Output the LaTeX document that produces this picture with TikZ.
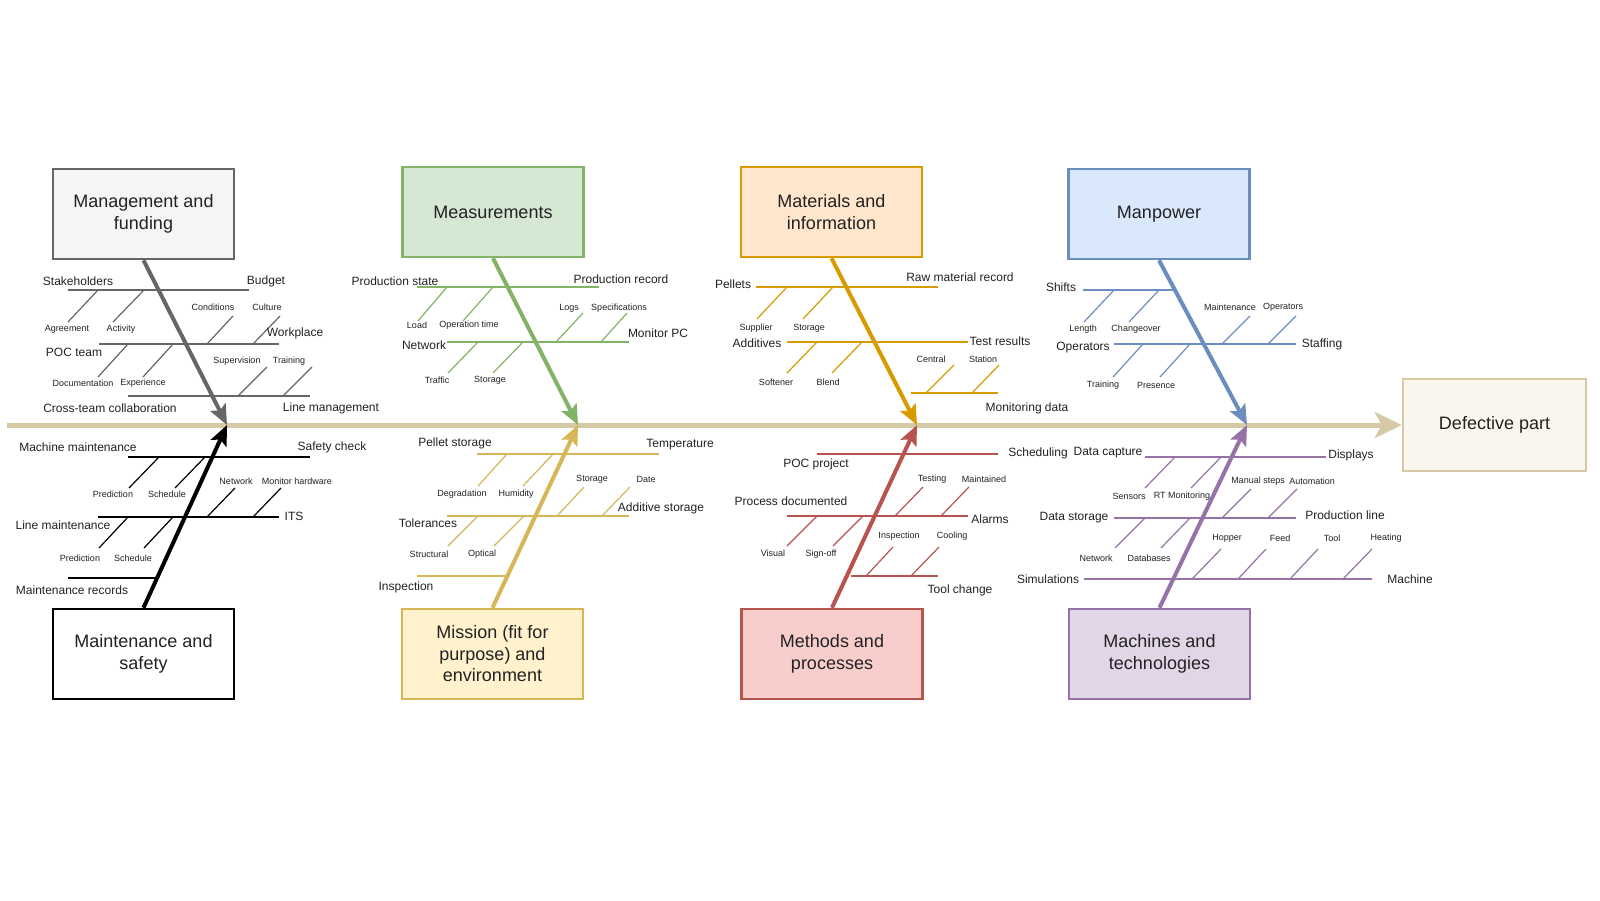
\documentclass[tikz,border=0pt]{standalone}
\usepackage{fontspec}
\setmainfont{Liberation Sans}
\usetikzlibrary{arrows.meta}

\definecolor{mgmtfill}{HTML}{F5F5F5}\definecolor{mgmtline}{HTML}{666666}
\definecolor{measfill}{HTML}{D5E8D4}\definecolor{measline}{HTML}{82B366}
\definecolor{matfill}{HTML}{FFE6CC}\definecolor{matline}{HTML}{D79B00}
\definecolor{manfill}{HTML}{DAE8FC}\definecolor{manline}{HTML}{6C8EBF}
\definecolor{misfill}{HTML}{FFF2CC}\definecolor{misline}{HTML}{D6B656}
\definecolor{metfill}{HTML}{F8CECC}\definecolor{metline}{HTML}{B85450}
\definecolor{macfill}{HTML}{E1D5E7}\definecolor{macline}{HTML}{9673A6}
\definecolor{effill}{HTML}{F9F7ED}\definecolor{axisline}{HTML}{D6C9A5}
\definecolor{labeltext}{HTML}{222222}

\begin{document}
\begin{tikzpicture}[x=1pt, y=-1pt,
    cause/.style={draw, line width=2.5pt, minimum width=181pt, minimum height=90pt,
        align=center, font=\fontsize{18}{21.5}\selectfont, text=labeltext},
    spine/.style={line width=4pt, -{Stealth[length=20pt,width=17pt,inset=4pt]}},
    branch/.style={line width=2.5pt},
    twig/.style={line width=1.2pt},
    lbl/.style={inner sep=0pt, font=\fontsize{12}{14}\selectfont, text=labeltext},
    sml/.style={inner sep=0pt, font=\fontsize{9}{11}\selectfont, text=labeltext}]

    \fill[white] (0,0) rectangle (1600,900);

    % cause boxes and effect
    \node[cause, fill=mgmtfill, draw=mgmtline] at (143.5,214)(mgmt){Management and\\funding};
    \node[cause, fill=measfill, draw=measline] at (493,212)(meas){Measurements};
    \node[cause, fill=matfill, draw=matline] at (831.5,212)(mat){Materials and\\information};
    \node[cause, fill=manfill, draw=manline] at (1159,214)(man){Manpower};
    \node[cause, fill=white, draw=black] at (143.5,654)(maint){Maintenance and\\safety};
    \node[cause, fill=misfill, draw=misline] at (492.5,654)(mis){Mission (fit for\\purpose) and\\environment};
    \node[cause, fill=metfill, draw=metline] at (832,654)(met){Methods and\\processes};
    \node[cause, fill=macfill, draw=macline] at (1159.5,654)(mac){Machines and\\technologies};
    \node[cause, fill=effill, draw=axisline, minimum width=183pt, minimum height=92pt] at (1494.5,425)(effect){Defective part};

    \coordinate (tail) at (7,425);
    \coordinate (tipA) at (227,425);
    \coordinate (tipB) at (578,425);
    \coordinate (tipC) at (917,425);
    \coordinate (tipD) at (1247,425);

    \draw[line width=5pt, axisline, -{Stealth[length=27pt,width=26pt,inset=7pt]}] (tail) -- (effect.west);

    % management and funding
    \draw[branch, mgmtline] (68,290) to (249,290);
    \draw[branch, mgmtline] (99,344) to (279,344);
    \draw[branch, mgmtline] (128,396) to (310,396);
        \draw[twig, mgmtline] (98,290) to (68,322);
        \draw[twig, mgmtline] (144,290) to (113,322);
        \draw[twig, mgmtline] (207,344) to (233,316);
        \draw[twig, mgmtline] (253,344) to (280,316);
        \draw[twig, mgmtline] (128,344) to (98,377);
        \draw[twig, mgmtline] (173,344) to (143,377);
        \draw[twig, mgmtline] (238,396) to (267,367);
        \draw[twig, mgmtline] (283,396) to (312,367);
    \draw[spine, mgmtline] (mgmt.south) to (tipA);
    \node[lbl] at (78,281)(stake){Stakeholders};
    \node[lbl] at (266,281)(budget){Budget};
    \node[lbl] at (74,352)(poc){POC team};
    \node[lbl] at (295,333)(workpl){Workplace};
    \node[lbl] at (110,408)(cross){Cross-team collaboration};
    \node[lbl] at (331,408)(linemg){Line management};
    \node[sml] at (67,329)(agree){Agreement};
    \node[sml] at (121,329)(activ){Activity};
    \node[sml] at (213,307)(cond){Conditions};
    \node[sml] at (267,307)(cult){Culture};
    \node[sml] at (83,383)(docu){Documentation};
    \node[sml] at (143,383)(exper){Experience};
    \node[sml] at (237,361)(superv){Supervision};
    \node[sml] at (289,361)(train){Training};

    % measurements
    \draw[branch, measline] (417,287) to (599,287);
    \draw[branch, measline] (447,342) to (629,342);
        \draw[twig, measline] (447,287) to (418,321);
        \draw[twig, measline] (493,287) to (463,321);
        \draw[twig, measline] (556,342) to (583,313);
        \draw[twig, measline] (601,342) to (627,313);
        \draw[twig, measline] (478,342) to (448,373);
        \draw[twig, measline] (523,342) to (493,373);
    \draw[spine, measline] (meas.south) to (tipB);
    \node[lbl] at (395,281)(pstate){Production state};
    \node[lbl] at (621,279)(precord){Production record};
    \node[lbl] at (424,345)(netw){Network};
    \node[lbl] at (658,333)(monpc){Monitor PC};
    \node[sml] at (417,325)(load){Load};
    \node[sml] at (469,325)(optime){Operation time};
    \node[sml] at (569,308)(logs){Logs};
    \node[sml] at (619,308)(specs){Specifications};
    \node[sml] at (437,380)(traffic){Traffic};
    \node[sml] at (490,380)(mstor){Storage};

    % materials and information
    \draw[branch, matline] (756,287) to (938,287);
    \draw[branch, matline] (787,342) to (968,342);
    \draw[branch, matline] (911,393) to (998,393);
        \draw[twig, matline] (787,287) to (757,319);
        \draw[twig, matline] (833,287) to (803,319);
        \draw[twig, matline] (817,342) to (787,373);
        \draw[twig, matline] (862,342) to (832,373);
        \draw[twig, matline] (926,393) to (954,365);
        \draw[twig, matline] (972,393) to (999,365);
    \draw[spine, matline] (mat.south) to (tipC);
    \node[lbl] at (733,284)(pellets){Pellets};
    \node[lbl] at (960,277)(rawrec){Raw material record};
    \node[lbl] at (757,343)(additv){Additives};
    \node[lbl] at (1000,341)(testres){Test results};
    \node[lbl] at (1027,408)(mondata){Monitoring data};
    \node[sml] at (756,328)(suppl){Supplier};
    \node[sml] at (809,328)(pstor){Storage};
    \node[sml] at (776,382)(soft){Softener};
    \node[sml] at (828,382)(blend){Blend};
    \node[sml] at (931,359)(central){Central};
    \node[sml] at (983,359)(station){Station};

    % manpower
    \draw[branch, manline] (1083,290) to (1175,290);
    \draw[branch, manline] (1114,344) to (1296,344);
        \draw[twig, manline] (1114,290) to (1084,322);
        \draw[twig, manline] (1159,290) to (1129,322);
        \draw[twig, manline] (1222,344) to (1250,316);
        \draw[twig, manline] (1268,344) to (1296,316);
        \draw[twig, manline] (1143,344) to (1113,377);
        \draw[twig, manline] (1190,344) to (1160,377);
    \draw[spine, manline] (man.south) to (tipD);
    \node[lbl] at (1061,287)(shifts){Shifts};
    \node[lbl] at (1083,348)(operat){Operators};
    \node[lbl] at (1322,344)(staff){Staffing};
    \node[sml] at (1083,329)(length){Length};
    \node[sml] at (1136,329)(chover){Changeover};
    \node[sml] at (1230,307)(mainten){Maintenance};
    \node[sml] at (1283,307)(sop){Operators};
    \node[sml] at (1103,385)(mtrain){Training};
    \node[sml] at (1156,385)(presence){Presence};

    % maintenance and safety
    \draw[branch, black] (128,457) to (310,457);
    \draw[branch, black] (98,517) to (279,517);
    \draw[branch, black] (68,578) to (157,578);
        \draw[twig, black] (159,457) to (129,488);
        \draw[twig, black] (205,457) to (175,488);
        \draw[twig, black] (207,517) to (235,488);
        \draw[twig, black] (253,517) to (281,488);
        \draw[twig, black] (128,517) to (99,548);
        \draw[twig, black] (173,517) to (144,548);
    \draw[spine, black] (maint.north) to (tipA);
    \node[lbl] at (78,447)(machm){Machine maintenance};
    \node[lbl] at (332,447)(safety){Safety check};
    \node[lbl] at (63,525)(linem){Line maintenance};
    \node[lbl] at (294,516)(its){ITS};
    \node[lbl] at (72,590)(mrec){Maintenance records};
    \node[sml] at (113,494)(pred1){Prediction};
    \node[sml] at (167,494)(sched1){Schedule};
    \node[sml] at (236,481)(snet){Network};
    \node[sml] at (297,481)(monhw){Monitor hardware};
    \node[sml] at (80,558)(pred2){Prediction};
    \node[sml] at (133,558)(sched2){Schedule};

    % mission and environment
    \draw[branch, misline] (477,454) to (659,454);
    \draw[branch, misline] (447,516) to (629,516);
    \draw[branch, misline] (417,576) to (508,576);
        \draw[twig, misline] (507,454) to (478,486);
        \draw[twig, misline] (553,454) to (523,486);
        \draw[twig, misline] (557,516) to (584,487);
        \draw[twig, misline] (602,516) to (630,487);
        \draw[twig, misline] (478,516) to (448,546);
        \draw[twig, misline] (524,516) to (494,546);
    \draw[spine, misline] (mis.north) to (tipB);
    \node[lbl] at (455,443)(pelstor){Pellet storage};
    \node[lbl] at (680,445)(temp){Temperature};
    \node[lbl] at (428,523)(toler){Tolerances};
    \node[lbl] at (661,508)(addstor){Additive storage};
    \node[lbl] at (406,587)(inspect){Inspection};
    \node[sml] at (462,494)(degr){Degradation};
    \node[sml] at (516,494)(humid){Humidity};
    \node[sml] at (592,479)(astor){Storage};
    \node[sml] at (646,479)(date){Date};
    \node[sml] at (429,554)(struct){Structural};
    \node[sml] at (482,554)(optic){Optical};

    % methods and processes
    \draw[branch, metline] (817,454) to (998,454);
    \draw[branch, metline] (787,516) to (968,516);
    \draw[branch, metline] (851,576) to (938,576);
        \draw[twig, metline] (895,516) to (923,487);
        \draw[twig, metline] (941,516) to (969,487);
        \draw[twig, metline] (817,516) to (787,546);
        \draw[twig, metline] (863,516) to (833,546);
        \draw[twig, metline] (866,576) to (893,547);
        \draw[twig, metline] (911,576) to (939,547);
    \draw[spine, metline] (met.north) to (tipC);
    \node[lbl] at (1038,453)(schedl){Scheduling};
    \node[lbl] at (816,464)(pocproj){POC project};
    \node[lbl] at (791,501)(procdoc){Process documented};
    \node[lbl] at (990,519)(alarms){Alarms};
    \node[lbl] at (960,590)(toolch){Tool change};
    \node[sml] at (932,479)(testing){Testing};
    \node[sml] at (984,479)(maintd){Maintained};
    \node[sml] at (773,553)(visual){Visual};
    \node[sml] at (821,554)(signoff){Sign-off};
    \node[sml] at (899,536)(tinsp){Inspection};
    \node[sml] at (952,536)(cooling){Cooling};

    % machines and technologies
    \draw[branch, macline] (1145,457) to (1326,457);
    \draw[branch, macline] (1114,518) to (1296,518);
    \draw[branch, macline] (1084,579) to (1372,579);
        \draw[twig, macline] (1175,457) to (1145,488);
        \draw[twig, macline] (1221,457) to (1191,488);
        \draw[twig, macline] (1222,518) to (1251,489);
        \draw[twig, macline] (1268,518) to (1297,489);
        \draw[twig, macline] (1145,518) to (1115,548);
        \draw[twig, macline] (1190,518) to (1161,548);
        \draw[twig, macline] (1192,579) to (1221,549);
        \draw[twig, macline] (1238,579) to (1266,549);
        \draw[twig, macline] (1290,579) to (1318,549);
        \draw[twig, macline] (1343,579) to (1372,549);
    \draw[spine, macline] (mac.north) to (tipD);
    \node[lbl] at (1108,453)(dcapt){Data capture};
    \node[lbl] at (1351,455)(displ){Displays};
    \node[lbl] at (1074,518)(dstor){Data storage};
    \node[lbl] at (1345,515)(prodl){Production line};
    \node[lbl] at (1048,579)(simul){Simulations};
    \node[lbl] at (1410,579)(machine){Machine};
    \node[sml] at (1129,496)(sensors){Sensors};
    \node[sml] at (1182,496)(rtmon){RT Monitoring};
    \node[sml] at (1258,481)(manual){Manual steps};
    \node[sml] at (1312,481)(autom){Automation};
    \node[sml] at (1096,558)(dnet){Network};
    \node[sml] at (1149,558)(dbase){Databases};
    \node[sml] at (1227,538)(hopper){Hopper};
    \node[sml] at (1280,538)(feed){Feed};
    \node[sml] at (1332,538)(tool){Tool};
    \node[sml] at (1386,538)(heating){Heating};
\end{tikzpicture}
\end{document}
